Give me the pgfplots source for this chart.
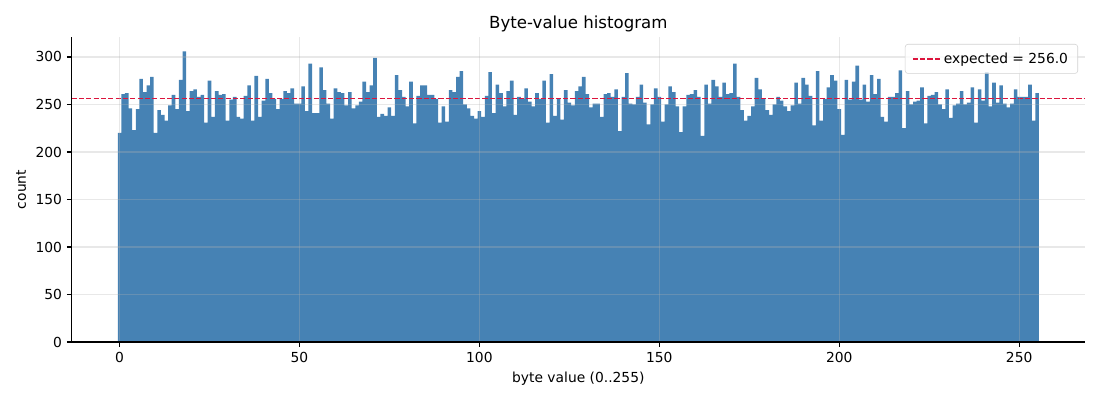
\documentclass[border=0pt]{standalone}
\usepackage{pgfplots}
\pgfplotsset{compat=1.18}
\usepackage{pgfplotstable}
\usepackage{fontspec}
\setmainfont{DejaVu Sans}
\definecolor{steelblue}{RGB}{70,130,180}
\definecolor{crimson}{RGB}{220,20,60}
\pgfplotstableread{
i c
0 220
1 261
2 262
3 246
4 223
5 245
6 277
7 263
8 270
9 279
10 220
11 244
12 239
13 233
14 249
15 260
16 245
17 276
18 306
19 243
20 264
21 266
22 258
23 260
24 231
25 275
26 237
27 264
28 260
29 261
30 233
31 255
32 258
33 237
34 235
35 259
36 270
37 233
38 280
39 237
40 254
41 277
42 262
43 256
44 245
45 256
46 264
47 262
48 267
49 251
50 251
51 269
52 243
53 293
54 241
55 241
56 289
57 265
58 251
59 235
60 267
61 263
62 262
63 249
64 263
65 246
66 249
67 253
68 274
69 263
70 270
71 299
72 237
73 240
74 238
75 247
76 238
77 281
78 265
79 258
80 248
81 274
82 230
83 259
84 270
85 270
86 260
87 260
88 256
89 231
90 248
91 232
92 265
93 263
94 279
95 285
96 250
97 246
98 238
99 235
100 243
101 237
102 259
103 284
104 241
105 271
106 262
107 248
108 264
109 275
110 239
111 258
112 256
113 267
114 253
115 248
116 262
117 256
118 275
119 231
120 282
121 238
122 256
123 234
124 265
125 252
126 249
127 264
128 269
129 279
130 261
131 247
132 251
133 251
134 237
135 261
136 262
137 258
138 266
139 222
140 258
141 283
142 251
143 250
144 258
145 271
146 252
147 229
148 250
149 267
150 258
151 232
152 250
153 269
154 263
155 248
156 221
157 248
158 260
159 261
160 265
161 258
162 217
163 271
164 251
165 276
166 269
167 258
168 273
169 261
170 262
171 293
172 258
173 244
174 233
175 238
176 248
177 278
178 266
179 256
180 244
181 239
182 250
183 258
184 254
185 248
186 243
187 249
188 273
189 251
190 278
191 271
192 259
193 228
194 285
195 233
196 256
197 268
198 281
199 275
200 245
201 218
202 276
203 255
204 274
205 291
206 255
207 271
208 253
209 281
210 261
211 277
212 237
213 232
214 258
215 258
216 262
217 286
218 225
219 264
220 250
221 253
222 254
223 268
224 230
225 259
226 260
227 263
228 250
229 245
230 266
231 236
232 249
233 251
234 264
235 250
236 252
237 268
238 231
239 266
240 254
241 284
242 248
243 273
244 252
245 270
246 251
247 247
248 251
249 266
250 258
251 258
252 258
253 271
254 233
255 262
256 262
}\hist
\begin{document}
\begin{tikzpicture}
\path[use as bounding box] (-0.717in,-0.58in) rectangle (10.283in,3.42in);
\begin{axis}[
  scale only axis,
  width=10.133in, height=3.05in,
  xmin=-13.3, xmax=268.3,
  ymin=0, ymax=321,
  axis lines*=left,
  axis line style={line width=0.8pt},
  axis on top,
  tick align=outside,
  major tick length=3.5pt,
  tick style={black, line width=0.8pt},
  xtick={0,50,100,150,200,250},
  ytick={0,50,100,150,200,250,300},
  grid=major,
  grid style={color=gray!60, opacity=0.3, line width=0.8pt},
  tick label style={font=\fontsize{10}{12}\selectfont},
  /pgf/number format/assume math mode=true,
  label style={font=\fontsize{10}{12}\selectfont},
  xlabel={byte value (0..255)},
  ylabel={count},
  title={Byte-value histogram},
  title style={font=\fontsize{12}{14}\selectfont, yshift=-6pt},
  legend style={at={(1,1)}, anchor=north east, xshift=-0.07in, yshift=-0.07in,
    draw=gray!35, rounded corners=2pt, fill=white, fill opacity=0.8, text opacity=1,
    font=\fontsize{10}{12}\selectfont, inner xsep=5pt, inner ysep=4pt},
  legend cell align=left,
  legend image code/.code={\draw[crimson, line width=1pt, dash pattern=on 3.7pt off 1.6pt] (0pt,0pt) -- (20pt,0pt);},
]
\addplot[const plot mark left, fill=steelblue, draw=none, forget plot]
  table[x expr=\thisrow{i}-0.5, y=c] {\hist} \closedcycle;
\addplot[crimson, line width=1pt, dash pattern=on 3.7pt off 1.6pt]
  coordinates {(-13.3,256) (268.3,256)};
\addlegendentry{expected = 256.0}
\end{axis}
\end{tikzpicture}
\end{document}
